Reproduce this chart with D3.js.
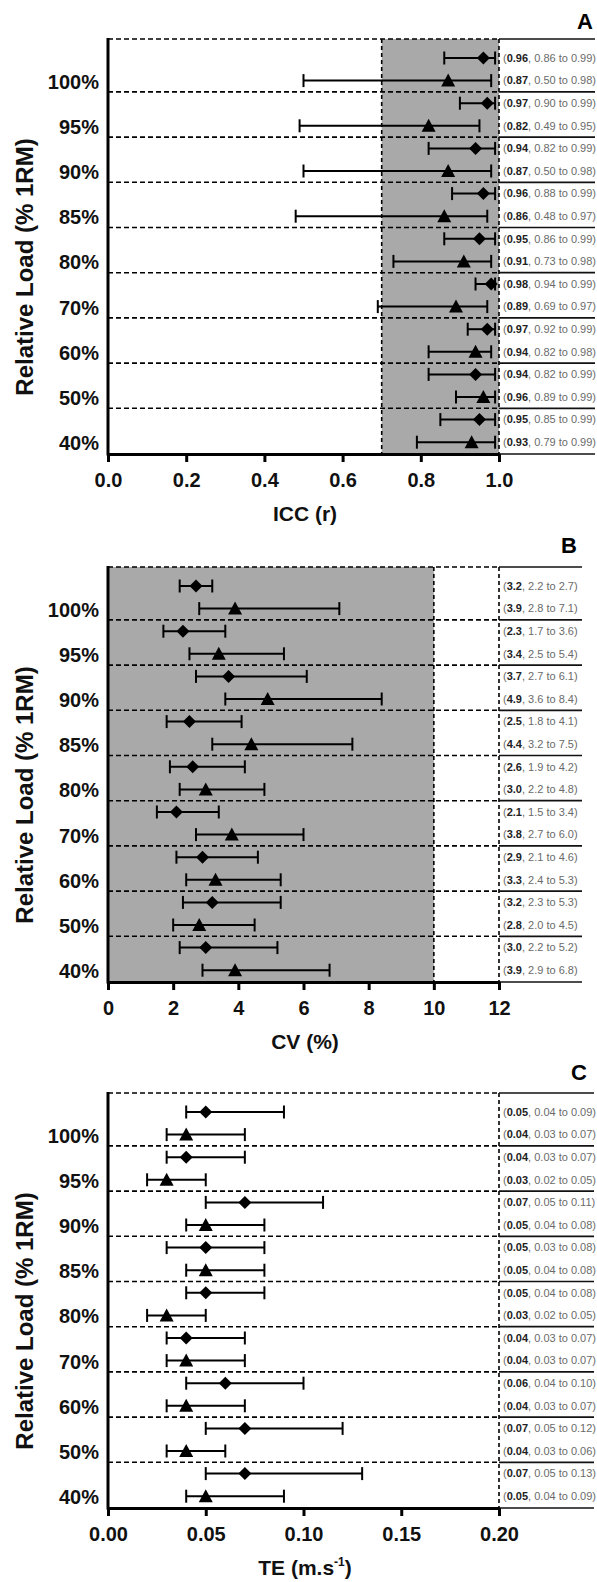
<!DOCTYPE html>
<html>
<head>
<meta charset="utf-8">
<script src="https://cdn.jsdelivr.net/npm/d3@7"></script>
<style>
    body { margin: 0; background: #fff; }
    svg { display: block; font-family: "Liberation Sans", Arial, Helvetica, sans-serif; }
</style>
</head>
<body>
<div id="vis"></div>
<script>
// Relative loads, top to bottom
var loads = ["100%", "95%", "90%", "85%", "80%", "70%", "60%", "50%", "40%"];

// Panel A - ICC (r): [value, lower CI, upper CI]
var iccDiamond = [[0.96, 0.86, 0.99], [0.97, 0.90, 0.99], [0.94, 0.82, 0.99], [0.96, 0.88, 0.99], [0.95, 0.86, 0.99],
                  [0.98, 0.94, 0.99], [0.97, 0.92, 0.99], [0.94, 0.82, 0.99], [0.95, 0.85, 0.99]];
var iccTriangle = [[0.87, 0.50, 0.98], [0.82, 0.49, 0.95], [0.87, 0.50, 0.98], [0.86, 0.48, 0.97], [0.91, 0.73, 0.98],
                   [0.89, 0.69, 0.97], [0.94, 0.82, 0.98], [0.96, 0.89, 0.99], [0.93, 0.79, 0.99]];
var iccTicks = [0, 0.2, 0.4, 0.6, 0.8, 1.0];

// Panel B - CV (%)
var cvDiamond = [[2.7, 2.2, 3.2], [2.3, 1.7, 3.6], [3.7, 2.7, 6.1], [2.5, 1.8, 4.1], [2.6, 1.9, 4.2],
                 [2.1, 1.5, 3.4], [2.9, 2.1, 4.6], [3.2, 2.3, 5.3], [3.0, 2.2, 5.2]];
var cvTriangle = [[3.9, 2.8, 7.1], [3.4, 2.5, 5.4], [4.9, 3.6, 8.4], [4.4, 3.2, 7.5], [3.0, 2.2, 4.8],
                  [3.8, 2.7, 6.0], [3.3, 2.4, 5.3], [2.8, 2.0, 4.5], [3.9, 2.9, 6.8]];
// printed text of the first CV row differs from where it is drawn
var cvDiamondPrinted = { 0: [3.2, 2.2, 2.7] };
var cvTicks = [0, 2, 4, 6, 8, 10, 12];

// Panel C - TE (m.s-1)
var teDiamond = [[0.05, 0.04, 0.09], [0.04, 0.03, 0.07], [0.07, 0.05, 0.11], [0.05, 0.03, 0.08], [0.05, 0.04, 0.08],
                 [0.04, 0.03, 0.07], [0.06, 0.04, 0.10], [0.07, 0.05, 0.12], [0.07, 0.05, 0.13]];
var teTriangle = [[0.04, 0.03, 0.07], [0.03, 0.02, 0.05], [0.05, 0.04, 0.08], [0.05, 0.04, 0.08], [0.03, 0.02, 0.05],
                  [0.04, 0.03, 0.07], [0.04, 0.03, 0.07], [0.04, 0.03, 0.06], [0.05, 0.04, 0.09]];
var teTicks = [0, 0.05, 0.10, 0.15, 0.20];

var width = 597,
    height = 1582,
    left = 108,
    right = 499,
    plotH = 415,
    rowStep = 22.6,
    rowOff = 19;

var svg = d3.select("#vis").append("svg")
    .attr("width", width)
    .attr("height", height);

var panels = [
    { letter: "A", top: 39, max: 1.0, ticks: iccTicks, tickFmt: d3.format(".1f"), lblFmt: d3.format(".2f"),
      diamond: iccDiamond, triangle: iccTriangle, printed: {}, shade: [0.7, 1.0], refs: [0.7, 1.0],
      lineEnd: 595, letterX: 593, letterDy: -10, title: "ICC (r)" },
    { letter: "B", top: 567, max: 12, ticks: cvTicks, tickFmt: d3.format("d"), lblFmt: d3.format(".1f"),
      diamond: cvDiamond, triangle: cvTriangle, printed: cvDiamondPrinted, shade: [0, 10], refs: [10, 12],
      lineEnd: 582, letterX: 577, letterDy: -14, title: "CV (%)" },
    { letter: "C", top: 1093, max: 0.20, ticks: teTicks, tickFmt: d3.format(".2f"), lblFmt: d3.format(".2f"),
      diamond: teDiamond, triangle: teTriangle, printed: {}, shade: null, refs: [0.20],
      lineEnd: 594, letterX: 587, letterDy: -13, title: "TE" }
];

var diamondPath = "M0,-6.5L6.5,0L0,6.5L-6.5,0Z",
    trianglePath = "M0,-7L7,6L-7,6Z";

panels.forEach(function(p) {
    var g = svg.append("g");
    var bottom = p.top + plotH;

    var x = d3.scaleLinear()
        .domain([0, p.max])
        .range([left, right]);

    var y = d3.scaleLinear()
        .domain([0, 17])
        .range([p.top + rowOff, p.top + rowOff + 17 * rowStep]);

    // grey reference zone
    if (p.shade) {
        g.append("rect")
            .attr("x", x(p.shade[0]))
            .attr("y", p.top)
            .attr("width", x(p.shade[1]) - x(p.shade[0]))
            .attr("height", bottom - p.top)
            .attr("fill", "#a9a9a9");
    }

    // dashed group separators (top border + between loads)
    var seps = [p.top].concat(d3.range(8).map(function(i) {
        return (y(2 * i + 1) + y(2 * i + 2)) / 2;
    }));

    g.selectAll(".sep")
        .data(seps)
        .enter()
        .append("line")
        .attr("class", "sep")
        .attr("x1", left)
        .attr("x2", right)
        .attr("y1", function(d) { return d; })
        .attr("y2", function(d) { return d; })
        .attr("stroke", "#000")
        .attr("stroke-width", 1.6)
        .attr("stroke-dasharray", "5,3");

    // dashed vertical reference lines
    g.selectAll(".ref")
        .data(p.refs)
        .enter()
        .append("line")
        .attr("class", "ref")
        .attr("x1", function(d) { return x(d); })
        .attr("x2", function(d) { return x(d); })
        .attr("y1", p.top)
        .attr("y2", bottom)
        .attr("stroke", "#000")
        .attr("stroke-width", 1.6)
        .attr("stroke-dasharray", "4,3");

    // solid rules of the text column
    g.selectAll(".rule")
        .data(seps.concat([bottom]))
        .enter()
        .append("line")
        .attr("class", "rule")
        .attr("x1", right)
        .attr("x2", p.lineEnd)
        .attr("y1", function(d) { return d; })
        .attr("y2", function(d) { return d; })
        .attr("stroke", "#111")
        .attr("stroke-width", 1.7);

    // rows: diamond on top, triangle below, per load
    var rows = [];
    loads.forEach(function(l, i) {
        rows.push({ row: 2 * i, v: p.diamond[i], shape: diamondPath, txt: p.printed[i] || p.diamond[i] });
        rows.push({ row: 2 * i + 1, v: p.triangle[i], shape: trianglePath, txt: p.triangle[i] });
    });

    var r = g.selectAll(".row")
        .data(rows)
        .enter()
        .append("g")
        .attr("class", "row");

    r.append("line")
        .attr("x1", function(d) { return x(d.v[1]); })
        .attr("x2", function(d) { return x(d.v[2]); })
        .attr("y1", function(d) { return y(d.row); })
        .attr("y2", function(d) { return y(d.row); })
        .attr("stroke", "#000")
        .attr("stroke-width", 2);

    [1, 2].forEach(function(k) {
        r.append("line")
            .attr("x1", function(d) { return x(d.v[k]); })
            .attr("x2", function(d) { return x(d.v[k]); })
            .attr("y1", function(d) { return y(d.row) - 6.5; })
            .attr("y2", function(d) { return y(d.row) + 6.5; })
            .attr("stroke", "#000")
            .attr("stroke-width", 2);
    });

    r.append("path")
        .attr("d", function(d) { return d.shape; })
        .attr("transform", function(d) { return "translate(" + x(d.v[0]) + "," + y(d.row) + ")"; })
        .attr("fill", "#000");

    // printed values
    var t = r.append("text")
        .attr("x", 503)
        .attr("y", function(d) { return y(d.row); })
        .attr("dy", "0.35em")
        .attr("font-size", 11)
        .attr("fill", "#6a6a6a");
    t.append("tspan").text("(");
    t.append("tspan")
        .attr("font-weight", "bold")
        .attr("fill", "#222")
        .text(function(d) { return p.lblFmt(d.txt[0]); });
    t.append("tspan").text(function(d) {
        return ", " + p.lblFmt(d.txt[1]) + " to " + p.lblFmt(d.txt[2]) + ")";
    });

    // y axis line and load labels
    g.append("line")
        .attr("x1", left)
        .attr("x2", left)
        .attr("y1", p.top - 1)
        .attr("y2", bottom + 1.5)
        .attr("stroke", "#000")
        .attr("stroke-width", 3);

    g.selectAll(".load")
        .data(loads)
        .enter()
        .append("text")
        .attr("class", "load")
        .attr("x", 99)
        .attr("y", function(d, i) { return y(2 * i + 1) + 1; })
        .attr("dy", "0.35em")
        .attr("text-anchor", "end")
        .attr("font-size", 20)
        .attr("font-weight", "bold")
        .attr("fill", "#111")
        .text(function(d) { return d; });

    g.append("text")
        .attr("transform", "translate(25," + (p.top + 228) + ") rotate(-90)")
        .attr("dy", "0.35em")
        .attr("text-anchor", "middle")
        .attr("font-size", 24)
        .attr("font-weight", "bold")
        .attr("fill", "#111")
        .text("Relative Load (% 1RM)");

    // x axis
    var xAxis = d3.axisBottom(x)
        .tickValues(p.ticks)
        .tickFormat(p.tickFmt)
        .tickSize(8)
        .tickSizeOuter(0)
        .tickPadding(11);

    var gx = g.append("g")
        .attr("transform", "translate(0," + bottom + ")")
        .call(xAxis);
    gx.select(".domain").attr("stroke-width", 3);
    gx.selectAll(".tick line").attr("stroke-width", 3);
    gx.selectAll(".tick text")
        .attr("font-size", 20)
        .attr("font-weight", "bold")
        .attr("font-family", "Liberation Sans, Arial, sans-serif")
        .attr("fill", "#111");

    // axis title, baseline placed just above the bottom edge for panel C
    var xt = g.append("text")
        .attr("x", 305)
        .attr("y", bottom + 67)
        .attr("text-anchor", "middle")
        .attr("font-size", 21)
        .attr("font-weight", "bold")
        .attr("fill", "#111")
        .text(p.title);
    if (p.letter === "C") {
        xt.append("tspan").text(" (m.s");
        xt.append("tspan").attr("font-size", 12).attr("dy", "-0.75em").text("-1");
        xt.append("tspan").attr("dy", "0.45em").text(")");
    }

    // panel letter
    g.append("text")
        .attr("x", p.letterX)
        .attr("y", p.top + p.letterDy)
        .attr("text-anchor", "end")
        .attr("font-size", 22)
        .attr("font-weight", "bold")
        .attr("fill", "#000")
        .text(p.letter);
});
</script>
</body>
</html>
